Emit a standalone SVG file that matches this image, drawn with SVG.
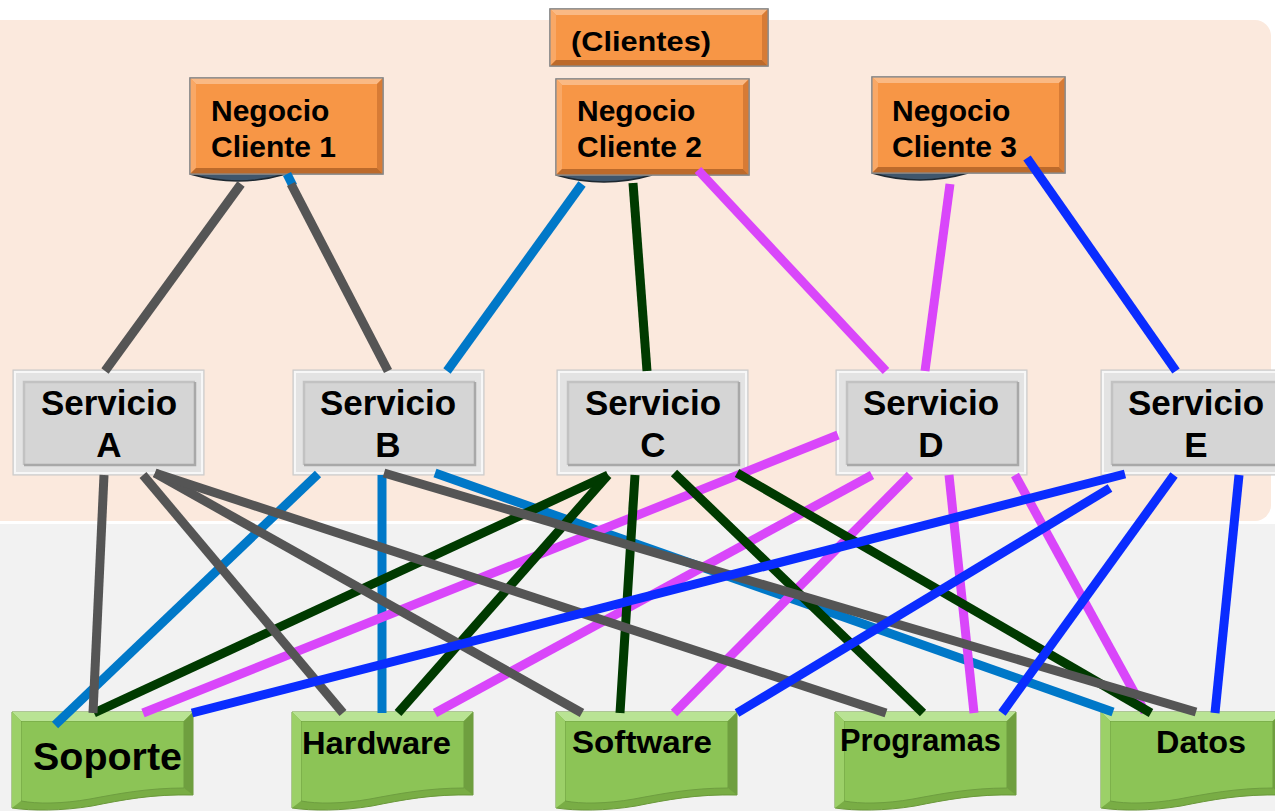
<svg xmlns="http://www.w3.org/2000/svg" xmlns:xlink="http://www.w3.org/1999/xlink" width="1275" height="811" viewBox="0 0 1275 811">
<style>
.t{font-family:"Liberation Sans",Arial,sans-serif;font-weight:bold;fill:#000}
.conn line{fill:none;stroke-width:9;stroke-linecap:butt}
.g{stroke:#555555}.lb{stroke:#0078C8}.dg{stroke:#003A00}.mg{stroke:#D946FA}.bl{stroke:#0A2CFF}
</style>
<defs>
<g id="ob">
<rect x="0" y="0" width="193" height="96" fill="#F79646" stroke="#888" stroke-width="1.5"/>
<polygon points="0,0 193,0 187,6 6,6" fill="#FAB984"/>
<polygon points="0,0 6,6 6,90 0,96" fill="#F9A866"/>
<polygon points="193,0 193,96 187,90 187,6" fill="#D77B35"/>
<polygon points="0,96 193,96 187,90 6,90" fill="#BC6A2B"/>
<rect x="0" y="0" width="193" height="96" fill="none" stroke="#8A8A8A" stroke-width="1.2"/>
</g>
<path id="sh" d="M0,0 Q48,14 96,0 Z" fill="#3F566C" stroke="#1E2830" stroke-width="1.5"/>
<g id="sb">
<rect x="0" y="0" width="191" height="105" fill="#E3E3E3" stroke="#C8C8C8" stroke-width="1"/>
<rect x="2" y="2" width="187" height="101" fill="none" stroke="#F7F7F7" stroke-width="2"/>
<rect x="11" y="12" width="171" height="83" fill="#D5D5D5"/>
<polyline points="11,95 11,12 182,12" fill="none" stroke="#C2C2C2" stroke-width="2.5"/>
<polyline points="11,95 182,95 182,12" fill="none" stroke="#A8A8A8" stroke-width="2.5"/>
</g>
<g id="gd">
<path d="M0,0 H181 V83 C140,82 110,88 80,94 C50,99 20,99 0,96 Z" fill="#79AD45" stroke="#6A983A" stroke-width="1"/>
<path d="M9,9 H172 V76 C135,76 105,82 78,87 C50,92 25,92 9,89 Z" fill="#8CC456" stroke="#6E9E40" stroke-width="1"/>
<polygon points="0,0 181,0 172,9 9,9" fill="#B9E394"/>
<polygon points="0,0 9,9 9,89 0,96" fill="#9CD068"/>
<polygon points="181,0 181,83 172,76 172,9" fill="#6F9F3F"/>
</g>
</defs>

<g id="background">
<rect x="0" y="0" width="1275" height="811" fill="#FFFFFF"/>
<rect x="-40" y="20" width="1311" height="501" rx="16" fill="#FBE9DD"/>
<rect x="0" y="524" width="1275" height="287" fill="#F2F2F2"/>
</g>

<g id="clientes">
<rect x="550" y="9" width="218" height="57" fill="#F79646" stroke="#888" stroke-width="1.5"/>
<polygon points="550,9 768,9 762,15 556,15" fill="#FAB984"/>
<polygon points="550,9 556,15 556,60 550,66" fill="#F9A866"/>
<polygon points="768,9 768,66 762,60 762,15" fill="#D77B35"/>
<polygon points="550,66 768,66 762,60 556,60" fill="#BC6A2B"/>
<rect x="550" y="9" width="218" height="57" fill="none" stroke="#8A8A8A" stroke-width="1.2"/>
<text class="t" x="571" y="51" font-size="27" textLength="140" lengthAdjust="spacingAndGlyphs">(Clientes)</text>
</g>

<g id="negocio1">
<use xlink:href="#sh" x="190" y="174"/>
<use xlink:href="#ob" x="190" y="78"/>
<text class="t" x="211" y="121" font-size="30">Negocio</text>
<text class="t" x="211" y="157" font-size="30">Cliente 1</text>
</g>
<g id="negocio2">
<use xlink:href="#sh" x="556" y="175"/>
<use xlink:href="#ob" x="556" y="79"/>
<text class="t" x="577" y="121" font-size="30">Negocio</text>
<text class="t" x="577" y="157" font-size="30">Cliente 2</text>
</g>
<g id="negocio3">
<use xlink:href="#sh" x="872" y="173"/>
<use xlink:href="#ob" x="872" y="77"/>
<text class="t" x="892" y="121" font-size="30">Negocio</text>
<text class="t" x="892" y="157" font-size="30">Cliente 3</text>
</g>

<g id="servicioA">
<use xlink:href="#sb" x="13" y="370"/>
<text class="t" x="109" y="415" font-size="35" text-anchor="middle">Servicio</text>
<text class="t" x="109" y="457" font-size="35" text-anchor="middle">A</text>
</g>
<g id="servicioB">
<use xlink:href="#sb" x="293" y="370"/>
<text class="t" x="388" y="415" font-size="35" text-anchor="middle">Servicio</text>
<text class="t" x="388" y="457" font-size="35" text-anchor="middle">B</text>
</g>
<g id="servicioC">
<use xlink:href="#sb" x="557" y="370"/>
<text class="t" x="653" y="415" font-size="35" text-anchor="middle">Servicio</text>
<text class="t" x="653" y="457" font-size="35" text-anchor="middle">C</text>
</g>
<g id="servicioD">
<use xlink:href="#sb" x="836" y="370"/>
<text class="t" x="931" y="415" font-size="35" text-anchor="middle">Servicio</text>
<text class="t" x="931" y="457" font-size="35" text-anchor="middle">D</text>
</g>
<g id="servicioE">
<use xlink:href="#sb" x="1101" y="370"/>
<text class="t" x="1196" y="415" font-size="35" text-anchor="middle">Servicio</text>
<text class="t" x="1196" y="457" font-size="35" text-anchor="middle">E</text>
</g>

<g id="soporte">
<use xlink:href="#gd" x="12" y="712"/>
<text class="t" x="33" y="770" font-size="38" textLength="149" lengthAdjust="spacingAndGlyphs">Soporte</text>
</g>
<g id="hardware">
<use xlink:href="#gd" x="292" y="712"/>
<text class="t" x="302" y="754" font-size="31" textLength="149" lengthAdjust="spacingAndGlyphs">Hardware</text>
</g>
<g id="software">
<use xlink:href="#gd" x="556" y="712"/>
<text class="t" x="572" y="753" font-size="31" textLength="140" lengthAdjust="spacingAndGlyphs">Software</text>
</g>
<g id="programas">
<use xlink:href="#gd" x="835" y="712"/>
<text class="t" x="840" y="751" font-size="31" textLength="161" lengthAdjust="spacingAndGlyphs">Programas</text>
</g>
<g id="datos">
<use xlink:href="#gd" x="1101" y="712"/>
<text class="t" x="1156" y="753" font-size="31" textLength="90" lengthAdjust="spacingAndGlyphs">Datos</text>
</g>

<g id="connectors" class="conn">
<line class="g" x1="241" y1="184" x2="105" y2="371"/>
<line class="lb" x1="287" y1="174" x2="293" y2="186"/>
<line class="g" x1="291" y1="184" x2="388" y2="371"/>
<line class="lb" x1="582" y1="184" x2="447" y2="371"/>
<line class="dg" x1="633" y1="183" x2="647" y2="371"/>
<line class="mg" x1="698" y1="170" x2="886" y2="371"/>
<line class="mg" x1="950" y1="184" x2="925" y2="371"/>
<line class="bl" x1="1027" y1="158" x2="1176" y2="371"/>

<line class="lb" x1="318" y1="474" x2="55" y2="725"/>
<line class="lb" x1="382" y1="475" x2="382" y2="713"/>
<line class="lb" x1="435" y1="473" x2="1113" y2="712"/>
<line class="mg" x1="838" y1="435" x2="143" y2="713"/>
<line class="mg" x1="872" y1="475" x2="435" y2="713"/>
<line class="mg" x1="910" y1="475" x2="674" y2="713"/>
<line class="mg" x1="949" y1="475" x2="974" y2="713"/>
<line class="mg" x1="1015" y1="475" x2="1145" y2="712"/>
<line class="dg" x1="608" y1="475" x2="94" y2="713"/>
<line class="dg" x1="608" y1="475" x2="398" y2="713"/>
<line class="dg" x1="635" y1="475" x2="620" y2="713"/>
<line class="dg" x1="674" y1="473" x2="923" y2="713"/>
<line class="dg" x1="737" y1="473" x2="1151" y2="713"/>
<line class="g" x1="104" y1="475" x2="93" y2="713"/>
<line class="g" x1="143" y1="475" x2="343" y2="713"/>
<line class="g" x1="155" y1="473" x2="582" y2="713"/>
<line class="g" x1="155" y1="473" x2="886" y2="713"/>
<line class="g" x1="384" y1="473" x2="1196" y2="712"/>
<line class="bl" x1="1125" y1="474" x2="192" y2="713"/>
<line class="bl" x1="1110" y1="488" x2="737" y2="713"/>
<line class="bl" x1="1174" y1="475" x2="1002" y2="713"/>
<line class="bl" x1="1239" y1="475" x2="1215" y2="713"/>
</g>
</svg>
